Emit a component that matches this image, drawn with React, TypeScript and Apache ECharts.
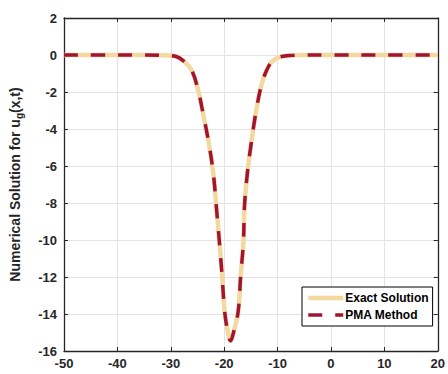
import React, { useEffect, useRef } from "react";
import * as echarts from "echarts";

const xValues = [-50, -40, -35, -31, -29, -27.5, -26.1, -24.9, -24, -22.8, -22, -21.5, -20.9, -20.4, -19.9, -19.3, -18.8, -18.3, -17.4, -16.9, -16.4, -16.2, -15.7, -15, -14, -13, -12, -11, -9.5, -7, -5, 0, 10, 20];
const yValues = [0, 0, 0, -0.02, -0.08, -0.35, -0.82, -1.88, -3.1, -4.9, -6.5, -8.1, -10.1, -11.9, -13.9, -15.0, -15.45, -15.05, -13.9, -11.9, -10.1, -8.2, -6.5, -4.9, -3.0, -1.6, -0.8, -0.35, -0.1, -0.02, 0, 0, 0, 0];
const seriesNames = ["Exact Solution", "PMA Method"];
const xTicks = { min: -50, max: 20, interval: 10 };
const yTicks = { min: -16, max: 2, interval: 2 };

const FONT = "Liberation Sans";
const AXIS = "#262626";
const TAN = "#F3D8A0";
const RED = "#A2142F";

export default function App() {
  const ref = useRef<HTMLDivElement>(null);
  useEffect(() => {
    const chart = echarts.init(ref.current!, null, { renderer: "svg" });
    const data = xValues.map((x, i) => [x, yValues[i]]);
    const labelStyle = { color: AXIS, fontFamily: FONT, fontWeight: "bold" as const, fontSize: 13 };
    const line = { show: true, onZero: false, lineStyle: { color: AXIS, width: 1.3 } };
    const tick = { show: true, inside: true, length: 4, lineStyle: { color: AXIS } };
    chart.setOption({
      animation: false,
      textStyle: { fontFamily: FONT },
      grid: { left: 63, right: 6, top: 18, bottom: 23 },
      legend: {
        left: 302,
        top: 287,
        orient: "vertical",
        data: [
          { name: seriesNames[0], lineStyle: { width: 4.5, color: TAN } },
          { name: seriesNames[1], lineStyle: { width: 3.5, color: RED, type: [14, 13] } },
        ],
        backgroundColor: "#fff",
        borderColor: "#000",
        borderWidth: 1,
        borderRadius: 0,
        padding: [5, 4, 5, 4],
        itemGap: 5,
        itemWidth: 35,
        itemHeight: 14,
        itemStyle: { opacity: 0 },
        textStyle: { color: "#000", fontFamily: FONT, fontWeight: "bold", fontSize: 12, padding: [0, 0, 0, -3] },
      },
      xAxis: [
        {
          type: "value",
          min: xTicks.min,
          max: xTicks.max,
          interval: xTicks.interval,
          axisLine: line,
          axisTick: tick,
          axisLabel: { ...labelStyle, margin: 6 },
          splitLine: { show: true, lineStyle: { color: "#e3e3e3", width: 1 } },
        },
        {
          type: "value",
          position: "top",
          min: xTicks.min,
          max: xTicks.max,
          interval: xTicks.interval,
          axisLine: line,
          axisTick: tick,
          axisLabel: { show: false },
          splitLine: { show: false },
        },
      ],
      yAxis: [
        {
          type: "value",
          min: yTicks.min,
          max: yTicks.max,
          interval: yTicks.interval,
          name: "Numerical Solution for u{sub|g}(x,t)",
          nameLocation: "middle",
          nameGap: 40,
          nameRotate: 90,
          nameTextStyle: {
            color: AXIS,
            fontFamily: FONT,
            fontWeight: "bold",
            fontSize: 14,
            rich: {
              sub: { fontFamily: FONT, fontWeight: "bold", fontSize: 10, color: AXIS, padding: [8, 0, 0, 0] },
            },
          },
          axisLine: line,
          axisTick: tick,
          axisLabel: { ...labelStyle, margin: 7 },
          splitLine: { show: true, lineStyle: { color: "#e3e3e3", width: 1 } },
        },
        {
          type: "value",
          position: "right",
          min: yTicks.min,
          max: yTicks.max,
          interval: yTicks.interval,
          axisLine: line,
          axisTick: tick,
          axisLabel: { show: false },
          splitLine: { show: false },
        },
      ],
      series: [
        {
          name: seriesNames[0],
          type: "line",
          data,
          smooth: 0.4,
          showSymbol: false,
          symbol: "none",
          itemStyle: { color: TAN },
          lineStyle: { color: TAN, width: 4.5 },
          z: 2,
        },
        {
          name: seriesNames[1],
          type: "line",
          data,
          smooth: 0.4,
          showSymbol: false,
          symbol: "none",
          itemStyle: { color: RED },
          lineStyle: { color: RED, width: 3.5, type: [14, 13] },
          z: 3,
        },
      ],
    });
    return () => chart.dispose();
  }, []);
  return <div ref={ref} style={{ width: 448, height: 374, position: "absolute", left: 0, top: 0, background: "#fff" }} />;
}
